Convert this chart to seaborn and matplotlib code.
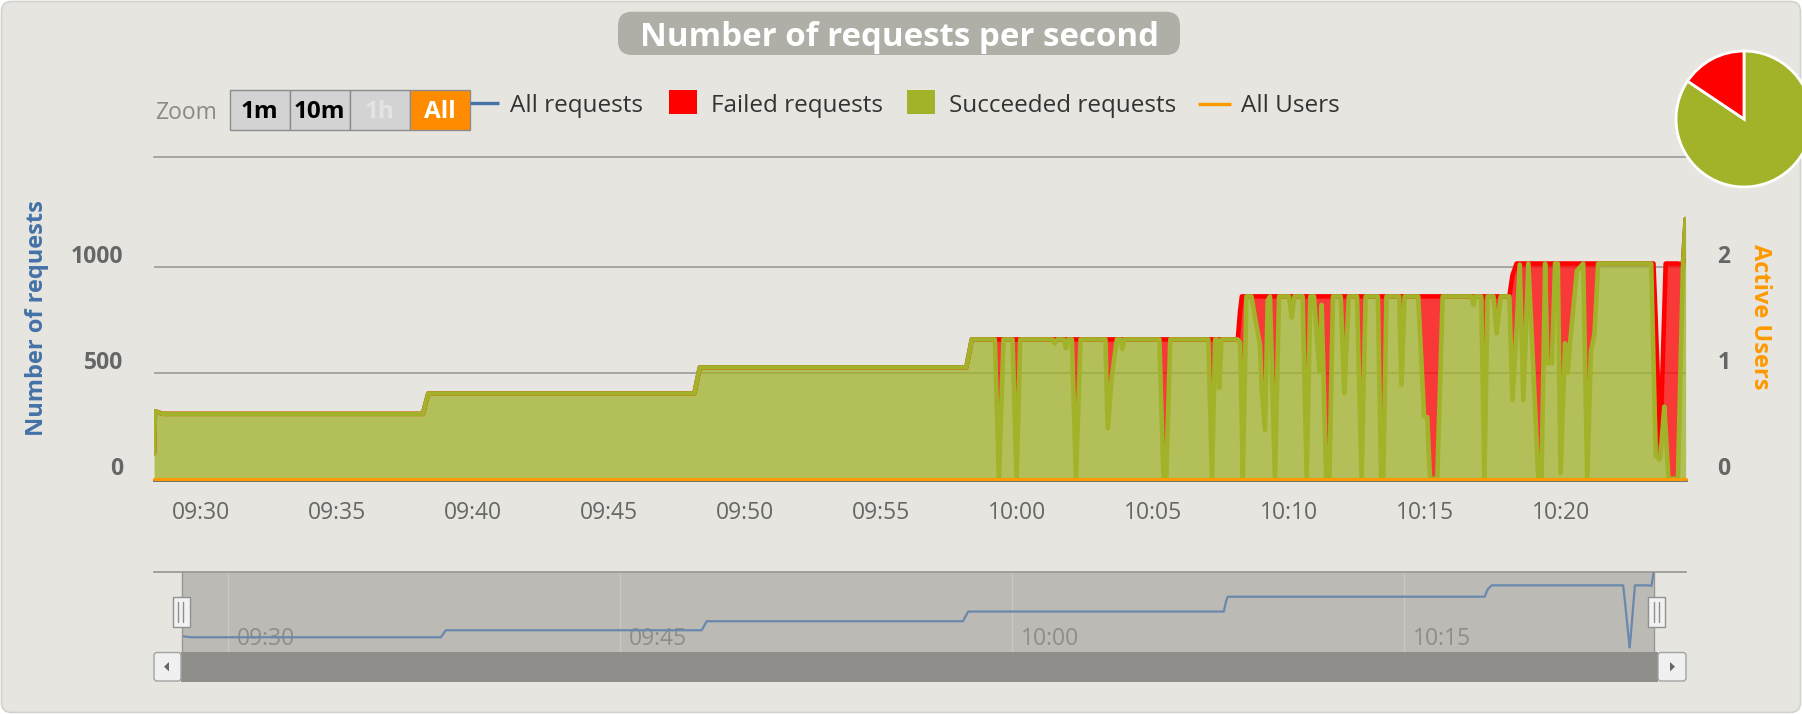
import numpy as np
import pandas as pd
import matplotlib
matplotlib.use("Agg")
import matplotlib.pyplot as plt
from matplotlib.patches import FancyBboxPatch, Rectangle, Polygon
import seaborn as sns

# ---------------- data ----------------
time_labels = [
    "09:28:16", "09:28:18", "09:28:27", "09:28:36", "09:38:09", "09:38:21",
    "09:48:08", "09:48:20", "09:58:08", "09:58:20",
    "09:59:11", "09:59:20", "09:59:30", "09:59:50", "09:59:59", "10:00:07",
    "10:01:18", "10:01:23", "10:01:29", "10:01:43", "10:01:48", "10:01:53",
    "10:02:01", "10:02:10", "10:02:20", "10:03:15", "10:03:20", "10:03:29",
    "10:03:40", "10:03:48", "10:03:52", "10:03:56", "10:05:14", "10:05:23",
    "10:05:29", "10:05:38", "10:07:02", "10:07:10", "10:07:17", "10:07:21",
    "10:07:26", "10:07:31", "10:08:07", "10:08:12", "10:08:16", "10:08:18",
    "10:08:26", "10:08:37", "10:08:43", "10:08:56", "10:08:59", "10:09:07",
    "10:09:13", "10:09:18", "10:09:29", "10:09:38", "10:10:00", "10:10:06",
    "10:10:12", "10:10:30", "10:10:39", "10:10:47", "10:10:55", "10:11:01",
    "10:11:07", "10:11:12", "10:11:22", "10:11:29", "10:11:37", "10:11:54",
    "10:12:02", "10:12:12", "10:12:30", "10:12:40", "10:12:49", "10:13:16",
    "10:13:23", "10:13:28", "10:13:35", "10:14:03", "10:14:08", "10:14:15",
    "10:14:45", "10:14:58", "10:15:05", "10:15:11", "10:15:27", "10:15:39",
    "10:16:43", "10:16:47", "10:16:51", "10:17:04", "10:17:11", "10:17:18",
    "10:17:31", "10:17:38", "10:17:47", "10:18:06", "10:18:13", "10:18:22",
    "10:18:29", "10:18:37", "10:18:48", "10:18:55", "10:19:10", "10:19:17",
    "10:19:25", "10:19:30", "10:19:40", "10:19:47", "10:19:53", "10:19:59",
    "10:20:09", "10:20:15", "10:20:20", "10:20:35", "10:20:49", "10:20:58",
    "10:21:06", "10:21:14", "10:21:22", "10:23:19", "10:23:24", "10:23:29",
    "10:23:37", "10:23:39", "10:23:41", "10:23:48", "10:23:51", "10:23:57",
    "10:24:18", "10:24:29", "10:24:35",
]
all_requests = [
    120, 318, 312, 306, 306, 402,
    402, 525, 525, 657,
    657, 657, 657, 657, 657, 657,
    657, 657, 657, 657, 657, 657,
    657, 657, 657, 657, 657, 657,
    657, 657, 657, 657, 657, 657,
    657, 657, 657, 657, 657, 657,
    657, 657, 657, 790, 860, 860,
    860, 860, 860, 860, 860, 860,
    860, 860, 860, 860, 860, 860,
    860, 860, 860, 860, 860, 860,
    860, 860, 860, 860, 860, 860,
    860, 860, 860, 860, 860, 860,
    860, 860, 860, 860, 860, 860,
    860, 860, 860, 860, 860, 860,
    860, 860, 860, 860, 860, 860,
    860, 860, 860, 860, 960, 1015,
    1015, 1015, 1015, 1015, 1015, 1015,
    1015, 1015, 1015, 1015, 1015, 1015,
    1015, 1015, 1015, 1015, 1015, 1015,
    1015, 1015, 1015, 1015, 1015, 744,
    270, 167, 294, 803, 1015, 1015,
    1015, 1010, 1225,
]
succeeded_requests = [
    120, 318, 312, 306, 306, 402,
    402, 525, 525, 657,
    657, 0, 657, 657, 0, 657,
    657, 638, 657, 657, 615, 657,
    657, 0, 657, 657, 238, 480,
    657, 657, 612, 657, 657, 0,
    0, 657, 657, 0, 657, 657,
    428, 657, 657, 640, 250, 0,
    860, 860, 785, 630, 450, 230,
    840, 860, 0, 860, 860, 760,
    860, 860, 0, 860, 860, 680,
    505, 820, 0, 0, 860, 860,
    403, 860, 860, 0, 860, 860,
    0, 0, 860, 860, 442, 860,
    860, 293, 290, 0, 0, 860,
    860, 820, 860, 860, 0, 860,
    860, 686, 860, 860, 371, 700,
    1010, 371, 1015, 700, 0, 0,
    1015, 545, 545, 1015, 1015, 25,
    639, 500, 640, 980, 1015, 0,
    600, 686, 1015, 1015, 560, 110,
    90, 100, 150, 340, 230, 0,
    0, 1000, 1225,
]
user_times = ["09:28:16", "10:24:35"]
active_users = [0, 0]
pie_labels = ["Succeeded requests", "Failed requests"]
pie_shares = [84.4, 15.6]
x_tick_labels = ["09:30", "09:35", "09:40", "09:45", "09:50", "09:55",
                 "10:00", "10:05", "10:10", "10:15", "10:20"]
nav_tick_labels = ["09:30", "09:45", "10:00", "10:15"]
y_ticks_left = [0, 500, 1000]
y_ticks_right = [0, 1, 2]
zoom_buttons = ["1m", "10m", "1h", "All"]
legend_labels = ["All requests", "Failed requests", "Succeeded requests", "All Users"]
title_text = "Number of requests per second"

# ---------------- style ----------------
BG = "#E6E5E0"
GREEN = "#A2B32A"
RED = "#FF0000"
BLUE = "#4572A7"
ORANGE = "#FF9900"
GRID = "#9B9B9B"
AXIS = "#666666"

sns.set_theme(style="white")
plt.rcParams["font.family"] = ["Open Sans", "DejaVu Sans"]

W, H = 1802, 714
fig = plt.figure(figsize=(W / 100, H / 100), dpi=100)
fig.patch.set_facecolor("white")

base = "2024-01-01 "
df = pd.DataFrame({
    "time": pd.to_datetime([base + s for s in time_labels]),
    "all": all_requests,
    "succeeded": succeeded_requests,
})
users = pd.DataFrame({"time": pd.to_datetime([base + s for s in user_times]),
                      "users": active_users})

# background frame
bgax = fig.add_axes([0, 0, 1, 1], zorder=-1)
bgax.set_xlim(0, W); bgax.set_ylim(H, 0); bgax.axis("off")
bgax.add_patch(FancyBboxPatch((1.5, 1.5), W - 3, H - 3,
                              boxstyle="round,pad=0,rounding_size=10",
                              facecolor=BG, edgecolor="#D2D2CE", lw=1.2))

# ---------------- main chart ----------------
Y0, YTOP = 478.7, 156.7
ax = fig.add_axes([154 / W, 1 - Y0 / H, (1686 - 154) / W, (Y0 - YTOP) / H], zorder=1)
ax.set_facecolor("none")
ymax = 1519
ax.set_ylim(0, ymax)
ax.set_xlim(pd.Timestamp(base + "09:28:15.9"), pd.Timestamp(base + "10:24:35.8"))

for v in y_ticks_left[1:]:
    ax.axhline(v, color=GRID, lw=1.2, zorder=1)

ax.fill_between(df["time"], 0, df["succeeded"], color=GREEN, alpha=0.75, lw=0, zorder=2)
ax.fill_between(df["time"], df["succeeded"], df["all"], color=RED, alpha=0.75, lw=0, zorder=2)
sns.lineplot(data=df, x="time", y="all", ax=ax, color=RED, lw=3.3, zorder=3,
             estimator=None, sort=False, solid_joinstyle="round", solid_capstyle="round")
sns.lineplot(data=df, x="time", y="succeeded", ax=ax, color=GREEN, lw=3.3, zorder=4,
             estimator=None, sort=False, solid_joinstyle="round", solid_capstyle="round")

ax.set_xlabel(""); ax.set_ylabel("")
ax.set_yticks([])
xt = pd.to_datetime([base + s + ":00" for s in x_tick_labels])
ax.set_xticks(xt)
ax.set_xticklabels(x_tick_labels)
ax.tick_params(axis="x", length=13, width=1.4, color=AXIS, labelsize=16.5,
               labelcolor=AXIS, pad=2, direction="out")
for s in ["left", "right"]:
    ax.spines[s].set_visible(False)
ax.spines["top"].set_color(GRID); ax.spines["top"].set_linewidth(1.2)
ax.spines["bottom"].set_color(AXIS); ax.spines["bottom"].set_linewidth(2.0)
ax.spines["bottom"].set_position(("outward", 1.2))
ax.spines["bottom"].set_zorder(0.5)

for v in y_ticks_left:
    ax.annotate(str(v), xy=(0, v), xycoords=("axes fraction", "data"),
                xytext=(-31, 4), textcoords="offset pixels", ha="right", va="baseline",
                fontsize=16.5, fontweight="bold", color=AXIS, annotation_clip=False)

ax2 = ax.twinx()
ax2.set_ylim(0, ymax / 500)
sns.lineplot(data=users, x="time", y="users", ax=ax2, color=ORANGE, lw=2.2,
             estimator=None, clip_on=False, zorder=5)
ax2.set_xlabel(""); ax2.set_ylabel(""); ax2.set_yticks([])
for s in ax2.spines.values():
    s.set_visible(False)
for v in y_ticks_right:
    ax2.annotate(str(v), xy=(1, v), xycoords=("axes fraction", "data"),
                 xytext=(31.5, 4), textcoords="offset pixels", ha="left", va="baseline",
                 fontsize=16.5, fontweight="bold", color=AXIS, annotation_clip=False)

# ---------------- navigator ----------------
NT, NB = 572.3, 651.7
nav = fig.add_axes([154 / W, 1 - NB / H, (1686 - 154) / W, (NB - NT) / H], zorder=1)
nav.set_facecolor("none")
nav.set_xlim(pd.Timestamp(base + "09:27:10.6"), pd.Timestamp(base + "10:25:48.3"))
nav.set_ylim(109, 1193)
nav.axvspan(df["time"].iloc[0], df["time"].iloc[-1], color="#BBBAB5", lw=0, zorder=0)
for lab in nav_tick_labels:
    ts = pd.Timestamp(base + lab + ":00")
    nav.axvline(ts, color="#CAC9C5", lw=1.0, zorder=1)
    nav.annotate(lab, xy=(ts, 0), xycoords=("data", "axes fraction"), xytext=(9, 6.7),
                 textcoords="offset pixels", ha="left", va="baseline",
                 fontsize=16.5, color="#8E8D89", annotation_clip=False)
sns.lineplot(x=df["time"].iloc[1:], y=df["all"].iloc[1:], ax=nav, color="#6A88AD",
             lw=1.6, estimator=None, sort=False, zorder=3)
nav.axvline(df["time"].iloc[0], color="#979797", lw=1.0, zorder=4)
nav.axvline(df["time"].iloc[-1], color="#979797", lw=1.0, zorder=4)
nav.set_xlabel(""); nav.set_ylabel("")
nav.set_xticks([]); nav.set_yticks([])
for s in ["left", "right", "bottom"]:
    nav.spines[s].set_visible(False)
nav.spines["top"].set_color(GRID); nav.spines["top"].set_linewidth(1.3)

# ---------------- overlay (pixel coordinates) ----------------
ov = fig.add_axes([0, 0, 1, 1], zorder=5)
ov.set_xlim(0, W); ov.set_ylim(H, 0); ov.axis("off")
ov.set_facecolor("none")

# title
ov.add_patch(FancyBboxPatch((618, 11.7), 562, 43.3, boxstyle="round,pad=0,rounding_size=14",
                            facecolor="#B0AFA7", edgecolor="none"))
ov.text(899, 46, title_text, ha="center", va="baseline", color="white",
        fontsize=23.8, fontweight="bold")

# zoom buttons
ov.text(155.5, 119.3, "Zoom", ha="left", va="baseline", color="#8A8984", fontsize=16.5)
bx = [230.2, 289.6, 349.8, 410.1, 469.5]
for i, lab in enumerate(zoom_buttons):
    fc = "#FF8C00" if lab == "All" else "#D3D3D3"
    ov.add_patch(Rectangle((bx[i], 90), bx[i + 1] - bx[i], 40, facecolor=fc,
                           edgecolor="#8C8C8C", lw=1.0))
    tc = {"1m": "black", "10m": "black", "1h": "#E4E4E4", "All": "white"}[lab]
    ov.text((bx[i] + bx[i + 1]) / 2, 117.7, lab, ha="center", va="baseline",
            color=tc, fontsize=17.5, fontweight="bold")

# legend
ov.plot([470, 499], [103.3, 103.3], color=BLUE, lw=2.4, solid_capstyle="butt")
ov.text(510, 111.5, legend_labels[0], ha="left", va="baseline", color="#333333", fontsize=17.5)
ov.add_patch(Rectangle((669, 90), 28, 24, facecolor=RED, edgecolor="none"))
ov.text(711, 111.5, legend_labels[1], ha="left", va="baseline", color="#333333", fontsize=17.5)
ov.add_patch(Rectangle((907, 90), 28, 24, facecolor=GREEN, edgecolor="none"))
ov.text(949, 111.5, legend_labels[2], ha="left", va="baseline", color="#333333", fontsize=17.5)
ov.plot([1198, 1231], [104, 104], color=ORANGE, lw=2.4, solid_capstyle="butt")
ov.text(1241, 111.5, legend_labels[3], ha="left", va="baseline", color="#333333", fontsize=17.5)

# axis titles
ov.text(37.5, 318, "Number of requests", rotation=90, ha="center", va="center",
        color=BLUE, fontsize=17, fontweight="bold")
ov.text(1760, 317, "Active Users", rotation=270, ha="center", va="center",
        color=ORANGE, fontsize=17, fontweight="bold")

# navigator handles
for (x0, x1, l1, l2) in [(173, 189.5, 178.3, 182.9), (1648.4, 1665.3, 1654.2, 1658.6)]:
    ov.add_patch(Rectangle((x0, 596.7), x1 - x0, 30, facecolor="#F2F2F2",
                           edgecolor="#919191", lw=1.0))
    ov.plot([l1, l1], [602, 622], color="#8F8F8F", lw=1.0)
    ov.plot([l2, l2], [602, 622], color="#8F8F8F", lw=1.0)

# scrollbar
ov.add_patch(Rectangle((181, 651.7), 1658 - 181, 30, facecolor="#8F8E8A", edgecolor="none"))
for (x0, x1) in [(154, 181), (1658, 1686)]:
    ov.add_patch(FancyBboxPatch((x0, 652.5), x1 - x0, 28.5,
                                boxstyle="round,pad=0,rounding_size=3",
                                facecolor="#F0F0F0", edgecolor="#A3A3A3", lw=1.0))
ov.add_patch(Polygon([[164, 666.7], [169, 662], [169, 671.4]], closed=True,
                     facecolor="#666666", edgecolor="none"))
ov.add_patch(Polygon([[1675, 666.7], [1670, 662], [1670, 671.4]], closed=True,
                     facecolor="#666666", edgecolor="none"))

# ---------------- pie ----------------
pcx, pcy, pr = 1744, 119, 69
pax = fig.add_axes([(pcx - pr) / W, 1 - (pcy + pr) / H, 2 * pr / W, 2 * pr / H], zorder=6)
pax.pie(pie_shares, colors=[GREEN, RED], startangle=90, counterclock=False, radius=0.985,
        wedgeprops=dict(edgecolor="white", linewidth=2))
pax.set_xlim(-1, 1); pax.set_ylim(-1, 1)
pax.set_aspect("equal")
pax.axis("off")

fig.savefig("out.png", dpi=100, facecolor=fig.get_facecolor())
